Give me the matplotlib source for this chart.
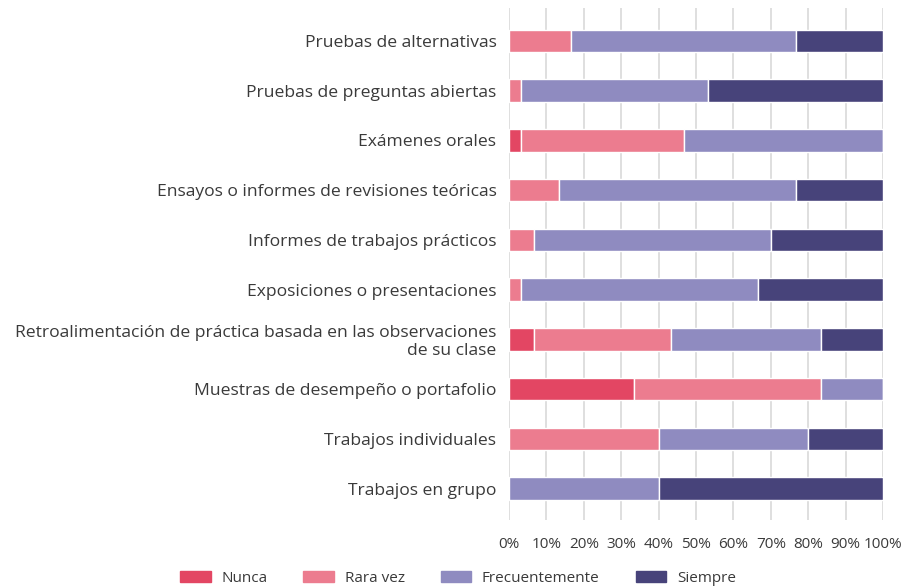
import numpy as np
import matplotlib.pyplot as plt
from matplotlib.patches import Patch

plt.rcParams['font.family'] = ['Open Sans', 'DejaVu Sans']

categorias = [
    "Pruebas de alternativas",
    "Pruebas de preguntas abiertas",
    "Exámenes orales",
    "Ensayos o informes de revisiones teóricas",
    "Informes de trabajos prácticos",
    "Exposiciones o presentaciones",
    "Retroalimentación de práctica basada en las observaciones\nde su clase",
    "Muestras de desempeño o portafolio",
    "Trabajos individuales",
    "Trabajos en grupo",
]
series = ["Nunca", "Rara vez", "Frecuentemente", "Siempre"]
colores = ["#e34663", "#ec7c8f", "#8f8bc0", "#47437a"]

nunca = [0, 0, 3.3, 0, 0, 0, 6.7, 33.3, 0, 0]
rara_vez = [16.7, 3.3, 43.4, 13.3, 6.7, 3.3, 36.6, 50.0, 40.0, 0]
frecuentemente = [60.0, 50.0, 53.3, 63.4, 63.3, 63.4, 40.0, 16.7, 40.0, 40.0]
siempre = [23.3, 46.7, 0, 23.3, 30.0, 33.3, 16.7, 0, 20.0, 60.0]

valores = [nunca, rara_vez, frecuentemente, siempre]

fig = plt.figure(figsize=(9.06, 5.88), dpi=100)
ax = fig.add_axes([509 / 906, 68 / 588, 374 / 906, 512 / 588])

y = np.arange(len(categorias))
izq = np.zeros(len(categorias))
for nombre, vals, c in zip(series, valores, colores):
    vals = np.array(vals)
    ax.barh(y, vals, left=izq, height=0.45, color=c, edgecolor="white",
            linewidth=1, label=nombre, zorder=3)
    izq += vals

ax.set_xlim(0, 100)
ax.set_ylim(9.63, -0.66)
ax.set_xticks(np.arange(0, 101, 10))
ax.set_xticklabels([f"{v}%" for v in range(0, 101, 10)])
ax.set_yticks(y)
ax.set_yticklabels(categorias, fontsize=12.6, color="#3a3a3a", linespacing=1.15)
ax.xaxis.grid(True, color="#d9d9d9", linewidth=1.2, zorder=0)
for s in ax.spines.values():
    s.set_visible(False)
ax.tick_params(axis="y", length=0, pad=9)
ax.tick_params(axis="x", length=0, labelsize=11, labelcolor="#3a3a3a", pad=12)

handles = [Patch(color=c, label=n) for n, c in zip(series, colores)]
fig.legend(handles=handles, loc="center", bbox_to_anchor=(458 / 906, 10 / 588),
           ncol=4, frameon=False, fontsize=11, handlelength=2.0,
           handleheight=0.75, handletextpad=0.7, columnspacing=2.35,
           labelcolor="#3a3a3a")

fig.savefig("out.png", dpi=100)
